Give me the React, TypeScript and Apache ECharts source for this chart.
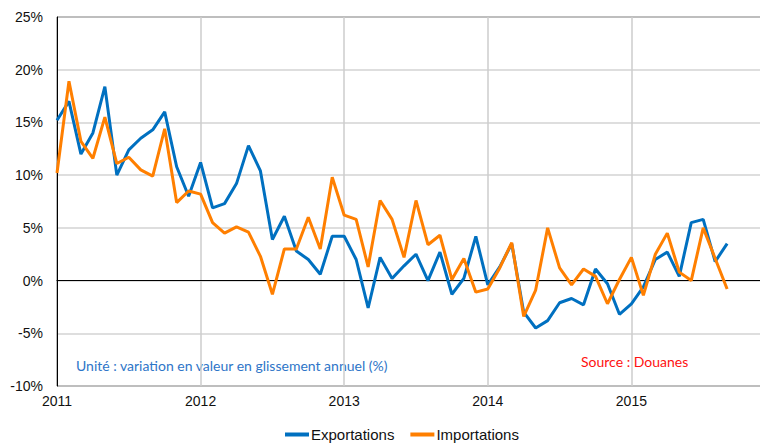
import React, { useEffect, useRef } from "react";
import * as echarts from "echarts";

// Monthly year-on-year change, Jan 2011 .. Sep 2015
const startYear = 2011;
const exportations = [
  15.2, 17.0, 12.0, 14.0, 18.4, 10.0, 12.4, 13.5, 14.3, 16.0, 10.8, 8.0,
  11.2, 6.9, 7.3, 9.2, 12.8, 10.4, 3.9, 6.1, 2.8, 2.0, 0.6, 4.2,
  4.2, 2.0, -2.6, 2.2, 0.2, 1.4, 2.5, 0.0, 2.7, -1.3, 0.2, 4.2,
  -0.4, 1.3, 3.5, -3.0, -4.5, -3.8, -2.1, -1.7, -2.3, 1.1, -0.3, -3.2,
  -2.2, -0.6, 2.0, 2.7, 0.4, 5.5, 5.8, 1.8, 3.5,
];
const importations = [
  10.2, 18.9, 13.2, 11.6, 15.5, 11.1, 11.7, 10.5, 9.9, 14.4, 7.4, 8.5,
  8.2, 5.5, 4.5, 5.1, 4.6, 2.3, -1.3, 3.0, 3.0, 6.0, 3.0, 9.8,
  6.2, 5.8, 1.3, 7.6, 5.8, 2.2, 7.6, 3.4, 4.3, 0.1, 2.1, -1.1,
  -0.8, 1.2, 3.6, -3.4, -0.9, 5.0, 1.2, -0.4, 1.1, 0.4, -2.2, 0.1,
  2.2, -1.4, 2.5, 4.5, 0.8, 0.0, 5.0, 2.1, -0.8,
];
const seriesNames = ["Exportations", "Importations"];
const unitNote = "Unité : variation en valeur en glissement annuel (%)";
const sourceNote = "Source : Douanes";

export default function App() {
  const ref = useRef<HTMLDivElement>(null);
  useEffect(() => {
    if (!ref.current) return;
    const chart = echarts.init(ref.current, undefined, {
      renderer: "svg",
      width: 778,
      height: 446,
    });
    const font = "'Liberation Sans', Arial, sans-serif";
    chart.setOption({
      animation: false,
      grid: {
        left: 57,
        right: 0,
        top: 17,
        bottom: 60,
        show: true,
        borderColor: "#000",
        borderWidth: 1,
        backgroundColor: "transparent",
      },
      xAxis: {
        type: "value",
        min: 0,
        max: 60,
        interval: 12,
        axisLine: { show: true, lineStyle: { color: "#000", width: 1 } },
        axisTick: { show: false },
        axisLabel: {
          margin: 8,
          color: "#111",
          fontFamily: font,
          fontSize: 14,
          formatter: (v: number) => (v >= 60 ? "" : String(startYear + Math.round(v / 12))),
        },
        splitLine: { show: true, lineStyle: { color: "#cccccc", width: 1.5 } },
      },
      yAxis: {
        type: "value",
        min: -10,
        max: 25,
        interval: 5,
        axisLine: { show: true, onZero: false, lineStyle: { color: "#000", width: 1 } },
        axisTick: { show: false },
        axisLabel: {
          margin: 14,
          color: "#111",
          fontFamily: font,
          fontSize: 14,
          formatter: "{value}%",
        },
        splitLine: { show: true, lineStyle: { color: "#d3d3d3", width: 1.5 } },
      },
      legend: {
        left: 280,
        top: 422,
        itemWidth: 24,
        itemHeight: 4,
        itemGap: 16,
        icon: "rect",
        textStyle: { color: "#111", fontFamily: font, fontSize: 15, padding: [0, 0, 0, -3] },
        data: seriesNames,
      },
      series: [
        {
          name: seriesNames[0],
          type: "line",
          data: exportations.map((v, i) => [i, v]),
          showSymbol: false,
          lineStyle: { color: "#0070C0", width: 3 },
          itemStyle: { color: "#0070C0" },
          z: 3,
          markLine: {
            silent: true,
            symbol: "none",
            label: { show: false },
            lineStyle: { color: "#000", width: 1, type: "solid" },
            data: [{ yAxis: 0 }],
            z: 1,
          },
        },
        {
          name: seriesNames[1],
          type: "line",
          data: importations.map((v, i) => [i, v]),
          showSymbol: false,
          lineStyle: { color: "#FF7F00", width: 3 },
          itemStyle: { color: "#FF7F00" },
          z: 4,
        },
      ],
      graphic: [
        {
          type: "text",
          left: 76,
          top: 358,
          style: {
            text: unitNote,
            fill: "#2E75C8",
            font: "14px Lato, 'Open Sans', sans-serif",
          },
        },
        {
          type: "text",
          left: 581,
          top: 354,
          style: {
            text: sourceNote,
            fill: "#FF1010",
            font: "14px Lato, 'Open Sans', sans-serif",
          },
        },
      ],
    });
    return () => chart.dispose();
  }, []);
  return (
    <div
      style={{
        position: "fixed",
        left: 0,
        top: 0,
        width: 760,
        height: 446,
        overflow: "hidden",
        background: "#fff",
      }}
    >
      <div ref={ref} style={{ position: "absolute", left: 0, top: 0, width: 778, height: 446 }} />
    </div>
  );
}
